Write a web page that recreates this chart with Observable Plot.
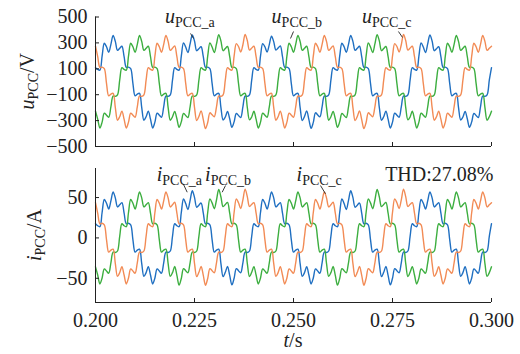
<!DOCTYPE html>
<html><head><meta charset="utf-8">
<script src="https://cdn.jsdelivr.net/npm/d3@7"></script>
<script src="https://cdn.jsdelivr.net/npm/@observablehq/plot@0.6"></script>
<style>
html,body{margin:0;padding:0;background:#fff;}
#chart{width:520px;height:354px;position:relative;overflow:hidden;}
#chart svg{display:block;}
</style></head><body><div id="chart"></div>
<script>
// sampling clock of the recorded waveforms (s)
const tStart = 0.2, tStep = 0.02 / 36;

// PCC voltages (V)
const uA = [
109,95,90,198,297,270,227,289,357,312,242,258,274,194,111,113,101,-12,-109,-95,-90,-198,-297,-270,-227,-289,-357,-312,-242,-258,-274,-194,-111,-113,-101,12,
109,95,90,198,300,268,225,292,362,315,240,255,270,194,111,113,101,-12,-109,-95,-90,-198,-295,-272,-230,-286,-352,-310,-245,-260,-276,-194,-111,-113,-101,12,
109,95,90,198,294,270,229,287,352,310,244,260,277,194,111,113,101,-12,-109,-95,-90,-198,-300,-268,-225,-292,-360,-314,-240,-256,-271,-194,-111,-113,-101,12,
109,95,90,198,297,270,227,289,357,312,242,258,274,194,111,113,101,-12,-109,-95,-90,-198,-297,-270,-227,-289,-357,-312,-242,-258,-274,-194,-111,-113,-101,12,
109,95,90,198,300,268,225,292,362,315,240,255,270,194,111,113,101,-12,-109,-95,-90,-198,-295,-272,-230,-286,-352,-310,-245,-260,-276,-194,-111,-113,-101,12,
109];
const uB = [
-227,-289,-357,-312,-242,-258,-274,-194,-111,-113,-101,12,109,95,90,198,297,270,227,289,357,312,242,258,274,194,111,113,101,-12,-109,-95,-90,-198,-297,-270,
-230,-286,-352,-310,-245,-260,-276,-194,-111,-113,-101,12,109,95,90,198,300,268,225,292,364,316,240,256,272,194,111,113,101,-12,-109,-95,-90,-198,-294,-272,
-227,-289,-357,-312,-242,-258,-274,-194,-111,-113,-101,12,109,95,90,198,297,270,227,289,357,312,242,258,274,194,111,113,101,-12,-109,-95,-90,-198,-297,-270,
-230,-286,-352,-310,-245,-260,-276,-194,-111,-113,-101,12,109,95,90,198,300,268,225,292,364,316,240,256,272,194,111,113,101,-12,-109,-95,-90,-198,-294,-272,
-227,-289,-357,-312,-242,-258,-274,-194,-111,-113,-101,12,109,95,90,198,297,270,227,289,357,312,242,258,274,194,111,113,101,-12,-109,-95,-90,-198,-297,-270,
-227];
const uC = [
274,194,111,113,101,-12,-109,-95,-90,-198,-297,-270,-227,-289,-357,-312,-242,-258,-274,-194,-111,-113,-101,12,109,95,90,198,297,270,227,289,357,312,242,258,
277,194,111,113,101,-12,-109,-95,-90,-198,-300,-268,-225,-292,-362,-315,-240,-255,-270,-194,-111,-113,-101,12,109,95,90,198,294,272,230,286,366,318,244,260,
274,194,111,113,101,-12,-109,-95,-90,-198,-297,-270,-227,-289,-357,-312,-242,-258,-274,-194,-111,-113,-101,12,109,95,90,198,297,270,227,289,357,312,242,258,
277,194,111,113,101,-12,-109,-95,-90,-198,-300,-268,-225,-292,-362,-315,-240,-255,-270,-194,-111,-113,-101,12,109,95,90,198,294,272,230,286,366,318,244,260,
274,194,111,113,101,-12,-109,-95,-90,-198,-297,-270,-227,-289,-357,-312,-242,-258,-274,-194,-111,-113,-101,12,109,95,90,198,297,270,227,289,357,312,242,258,
274];

// PCC currents (A)
const iA = [
17.6,15.1,14.0,31.5,47.6,43.0,35.8,45.9,57.0,49.6,38.4,41.0,43.7,30.8,17.5,18.1,16.2,-2.0,-17.6,-15.1,-14.0,-31.5,-47.6,-43.0,-35.8,-45.9,-57.0,-49.6,-38.4,-41.0,-43.7,-30.8,-17.5,-18.1,-16.2,2.0,
17.6,15.1,14.0,31.5,48.2,42.6,35.2,46.5,58.5,50.2,38.0,40.6,43.2,30.8,17.5,18.1,16.2,-2.0,-17.6,-15.1,-14.0,-31.5,-48.0,-42.6,-35.4,-46.4,-58.2,-50.0,-38.0,-40.6,-43.2,-30.8,-17.5,-18.1,-16.2,2.0,
17.6,15.1,14.0,31.5,47.6,43.0,35.8,45.9,57.0,49.6,38.4,41.0,43.7,30.8,17.5,18.1,16.2,-2.0,-17.6,-15.1,-14.0,-31.5,-47.6,-43.0,-35.8,-45.9,-57.0,-49.6,-38.4,-41.0,-43.7,-30.8,-17.5,-18.1,-16.2,2.0,
17.6,15.1,14.0,31.5,48.2,42.6,35.2,46.5,58.5,50.2,38.0,40.6,43.2,30.8,17.5,18.1,16.2,-2.0,-17.6,-15.1,-14.0,-31.5,-48.0,-42.6,-35.4,-46.4,-58.2,-50.0,-38.0,-40.6,-43.2,-30.8,-17.5,-18.1,-16.2,2.0,
17.6,15.1,14.0,31.5,47.6,43.0,35.8,45.9,57.0,49.6,38.4,41.0,43.7,30.8,17.5,18.1,16.2,-2.0,-17.6,-15.1,-14.0,-31.5,-47.6,-43.0,-35.8,-45.9,-57.0,-49.6,-38.4,-41.0,-43.7,-30.8,-17.5,-18.1,-16.2,2.0,
17.6];
const iB = [
-35.8,-45.9,-57.0,-49.6,-38.4,-41.0,-43.7,-30.8,-17.5,-18.1,-16.2,2.0,17.6,15.1,14.0,31.5,47.6,43.0,35.8,45.9,57.0,49.6,38.4,41.0,43.7,30.8,17.5,18.1,16.2,-2.0,-17.6,-15.1,-14.0,-31.5,-47.6,-43.0,
-35.4,-46.4,-58.5,-50.2,-38.0,-40.6,-43.2,-30.8,-17.5,-18.1,-16.2,2.0,17.6,15.1,14.0,31.5,48.4,43.4,36.2,47.0,60.0,51.0,38.8,41.4,44.0,30.8,17.5,18.1,16.2,-2.0,-17.6,-15.1,-14.0,-31.5,-48.0,-42.6,
-35.8,-45.9,-57.0,-49.6,-38.4,-41.0,-43.7,-30.8,-17.5,-18.1,-16.2,2.0,17.6,15.1,14.0,31.5,47.6,43.0,35.8,45.9,57.0,49.6,38.4,41.0,43.7,30.8,17.5,18.1,16.2,-2.0,-17.6,-15.1,-14.0,-31.5,-47.6,-43.0,
-35.4,-46.4,-58.5,-50.2,-38.0,-40.6,-43.2,-30.8,-17.5,-18.1,-16.2,2.0,17.6,15.1,14.0,31.5,48.4,43.4,36.2,47.0,60.0,51.0,38.8,41.4,44.0,30.8,17.5,18.1,16.2,-2.0,-17.6,-15.1,-14.0,-31.5,-48.0,-42.6,
-35.8,-45.9,-57.0,-49.6,-38.4,-41.0,-43.7,-30.8,-17.5,-18.1,-16.2,2.0,17.6,15.1,14.0,31.5,47.6,43.0,35.8,45.9,57.0,49.6,38.4,41.0,43.7,30.8,17.5,18.1,16.2,-2.0,-17.6,-15.1,-14.0,-31.5,-47.6,-43.0,
-35.8];
const iC = [
43.7,30.8,17.5,18.1,16.2,-2.0,-17.6,-15.1,-14.0,-31.5,-47.6,-43.0,-35.8,-45.9,-57.0,-49.6,-38.4,-41.0,-43.7,-30.8,-17.5,-18.1,-16.2,2.0,17.6,15.1,14.0,31.5,47.6,43.0,35.8,45.9,57.0,49.6,38.4,41.0,
44.2,30.8,17.5,18.1,16.2,-2.0,-17.6,-15.1,-14.0,-31.5,-48.0,-42.6,-35.4,-46.4,-58.6,-50.2,-38.0,-40.6,-43.2,-30.8,-17.5,-18.1,-16.2,2.0,17.6,15.1,14.0,31.5,48.4,43.6,36.4,47.2,60.5,51.2,39.0,41.6,
43.7,30.8,17.5,18.1,16.2,-2.0,-17.6,-15.1,-14.0,-31.5,-47.6,-43.0,-35.8,-45.9,-57.0,-49.6,-38.4,-41.0,-43.7,-30.8,-17.5,-18.1,-16.2,2.0,17.6,15.1,14.0,31.5,47.6,43.0,35.8,45.9,57.0,49.6,38.4,41.0,
44.2,30.8,17.5,18.1,16.2,-2.0,-17.6,-15.1,-14.0,-31.5,-48.0,-42.6,-35.4,-46.4,-58.6,-50.2,-38.0,-40.6,-43.2,-30.8,-17.5,-18.1,-16.2,2.0,17.6,15.1,14.0,31.5,48.4,43.6,36.4,47.2,60.5,51.2,39.0,41.6,
43.7,30.8,17.5,18.1,16.2,-2.0,-17.6,-15.1,-14.0,-31.5,-47.6,-43.0,-35.8,-45.9,-57.0,-49.6,-38.4,-41.0,-43.7,-30.8,-17.5,-18.1,-16.2,2.0,17.6,15.1,14.0,31.5,47.6,43.0,35.8,45.9,57.0,49.6,38.4,41.0,
43.7];

// axes / ticks
const xDomain = [0.2, 0.3];
const xTicks = [0.2, 0.225, 0.25, 0.275, 0.3];
const xTickLabels = ["0.200", "0.225", "0.250", "0.275", "0.300"];
const uDomain = [-500, 500];
const uTicks = [-500, -300, -100, 100, 300, 500];
const uTickLabels = ["\u2212500", "\u2212300", "\u2212100", "100", "300", "500"];
const iDomain = [-80, 86];
const iTicks = [-50, 0, 50];
const iTickLabels = ["\u221250", "0", "50"];

// labels
const phaseSubs = ["PCC_a", "PCC_b", "PCC_c"];
const thdLabel = "THD:27.08%";
const colors = ["#1f6fc1", "#3cae3f", "#f28b55"]; // a, b, c

// annotation anchors (data units)
const uAnnAt = [{t: 0.2177, v: 450}, {t: 0.2446, v: 450}, {t: 0.2674, v: 450}];
const uLeaders = [
  {t1: 0.2240, v1: 373, t2: 0.22475, v2: 334},
  {t1: 0.2500, v1: 388, t2: 0.24924, v2: 334},
  {t1: 0.2765, v1: 388, t2: 0.27753, v2: 342}];
const iAnnAt = [{t: 0.2156, v: 70.5}, {t: 0.2278, v: 70.5}, {t: 0.2509, v: 70.5}];
const iLeaders = [
  {t1: 0.22215, v1: 67.0, t2: 0.22316, v2: 56.6},
  {t1: 0.23283, v1: 64.9, t2: 0.23199, v2: 56.6},
  {t1: 0.25682, v1: 64.9, t2: 0.25808, v2: 54.7}];
const thdAt = [{t: 0.3005, v: 70}];

const font = '"Liberation Serif","Times New Roman",serif';
const ink = "#222";
const rows = arr => arr.map((v, i) => ({t: tStart + i * tStep, v}));

function waveMarks(series) {
  return series.map((s, k) => Plot.line(rows(s), {x: "t", y: "v", stroke: colors[k], strokeWidth: 1.4, curve: "catmull-rom"}));
}
function leaderMarks(L) {
  return Plot.link(L, {x1: "t1", y1: "v1", x2: "t2", y2: "v2", stroke: ink, strokeWidth: 0.9});
}

const up = Plot.plot({
  width: 520, height: 152, marginLeft: 95, marginRight: 29, marginTop: 16.5, marginBottom: 6,
  style: {fontFamily: font, fontSize: "20px", color: ink, background: "white", overflow: "visible"},
  x: {domain: xDomain, axis: null},
  y: {domain: uDomain, axis: null},
  marks: [
    ...waveMarks([uA, uB, uC]),
    leaderMarks(uLeaders),
    Plot.ruleX([xDomain[0]], {stroke: ink}),
    Plot.ruleY([uDomain[0]], {stroke: ink}),
    Plot.axisY({ticks: uTicks, tickSize: -4, tickPadding: 12, fontSize: 20, stroke: ink,
      tickFormat: d => uTickLabels[uTicks.indexOf(d)]}),
    Plot.axisX({ticks: xTicks, tickSize: -4, tickFormat: () => "", stroke: ink})
  ]
});

const lo = Plot.plot({
  width: 520, height: 202, marginLeft: 95, marginRight: 29, marginTop: 16, marginBottom: 52,
  style: {fontFamily: font, fontSize: "20px", color: ink, background: "white", overflow: "visible"},
  x: {domain: xDomain, axis: null},
  y: {domain: iDomain, axis: null},
  marks: [
    ...waveMarks([iA, iB, iC]),
    leaderMarks(iLeaders),
    Plot.ruleX([xDomain[0]], {stroke: ink}),
    Plot.ruleY([iDomain[0]], {stroke: ink}),
    Plot.axisY({ticks: iTicks, tickSize: -4, tickPadding: 12, fontSize: 20, stroke: ink,
      tickFormat: d => iTickLabels[iTicks.indexOf(d)]}),
    Plot.axisX({ticks: xTicks, tickSize: -4, tickPadding: 14, fontSize: 20, stroke: ink,
      tickFormat: d => xTickLabels[xTicks.indexOf(d)]}),
    Plot.text(thdAt, {x: "t", y: "v", text: () => thdLabel, textAnchor: "end", fontSize: 20, fill: ink, lineAnchor: "bottom"})
  ]
});

const root = document.getElementById("chart");
root.appendChild(up);
root.appendChild(lo);

// rich text (italic symbol + subscript) drawn at scale positions
function rich(svg, x, y, parts, rotate) {
  const tx = d3.select(svg).append("text")
    .attr("font-family", font).attr("fill", ink).attr("font-size", 20);
  if (rotate) tx.attr("transform", `translate(${x},${y}) rotate(-90)`).attr("text-anchor", "middle");
  else tx.attr("x", x).attr("y", y).attr("text-anchor", "start");
  let shift = 0;
  for (const p of parts) {
    const target = p.sub ? 4 : 0;
    const ts = tx.append("tspan").text(p.text).attr("font-size", p.sub ? 14 : 20);
    if (target !== shift) ts.attr("dy", target - shift);
    shift = target;
    if (p.italic) ts.attr("font-style", "italic");
  }
}

const ux = up.scale("x"), uy = up.scale("y");
uAnnAt.forEach((a, k) => rich(up, ux.apply(a.t), uy.apply(a.v), [{text: "u", italic: true}, {text: phaseSubs[k], sub: true}]));
const lx = lo.scale("x"), ly = lo.scale("y");
iAnnAt.forEach((a, k) => rich(lo, lx.apply(a.t), ly.apply(a.v), [{text: "i", italic: true}, {text: phaseSubs[k], sub: true}]));

// axis titles
rich(up, 34, (uy.apply(uDomain[0]) + uy.apply(uDomain[1])) / 2,
  [{text: "u", italic: true}, {text: "PCC", sub: true}, {text: "/V"}], true);
rich(lo, 41, (ly.apply(iDomain[0]) + ly.apply(iDomain[1])) / 2,
  [{text: "i", italic: true}, {text: "PCC", sub: true}, {text: "/A"}], true);
{
  const cx = (lx.apply(xDomain[0]) + lx.apply(xDomain[1])) / 2;
  const tx = d3.select(lo).append("text").attr("x", cx).attr("y", 195)
    .attr("text-anchor", "middle").attr("font-family", font).attr("font-size", 20).attr("fill", ink);
  tx.append("tspan").text("t").attr("font-style", "italic");
  tx.append("tspan").text("/s");
}
</script></body></html>
